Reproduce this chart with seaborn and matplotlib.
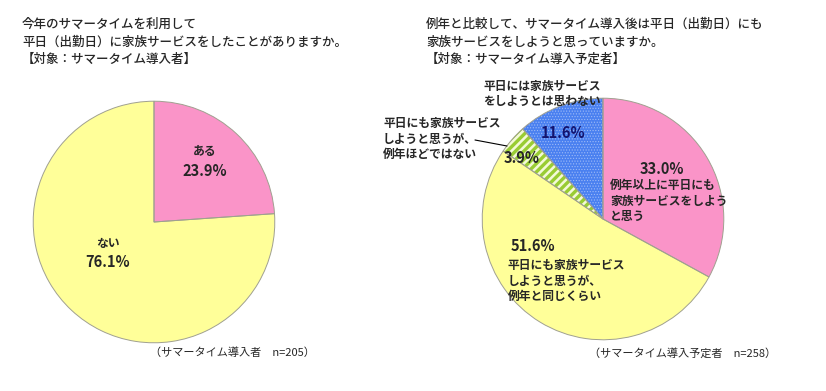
import matplotlib

matplotlib.use("Agg")
import matplotlib.pyplot as plt
import seaborn as sns

# left pie: users of summer time
left_labels = ["ある", "ない"]
left_values = [23.9, 76.1]
left_title = "今年のサマータイムを利用して\n平日（出勤日）に家族サービスをしたことがありますか。\n【対象：サマータイム導入者】"
left_note = "（サマータイム導入者　n=205）"

# right pie: planned users
right_labels = [
    "例年以上に平日にも\n家族サービスをしよう\nと思う",
    "平日にも家族サービス\nしようと思うが、\n例年と同じくらい",
    "平日にも家族サービス\nしようと思うが、\n例年ほどではない",
    "平日には家族サービス\nをしようとは思わない",
]
right_values = [33.0, 51.6, 3.9, 11.6]
right_title = "例年と比較して、サマータイム導入後は平日（出勤日）にも\n家族サービスをしようと思っていますか。\n【対象：サマータイム導入予定者】"
right_note = "（サマータイム導入予定者　n=258）"

PINK = "#FA94C8"
YELLOW = "#FFFF99"
GREEN = "#99CC33"
BLUE = "#4A80F0"

sns.set_theme(style="white")
plt.rcParams["font.family"] = ["Noto Sans CJK JP", "DejaVu Sans"]

W, H = 826, 391
fig = plt.figure(figsize=(W / 100, H / 100), dpi=100)


def px_axes(cx, cy, r):
    return fig.add_axes([(cx - r) / W, (H - cy - r) / H, 2 * r / W, 2 * r / H])


def ftext(x, y, s, **kw):
    fig.text(x / W, 1 - y / H, s, **kw)


def outline(ax, values):
    ax.pie(values, startangle=90, counterclock=False,
           wedgeprops={"fill": False, "edgecolor": "#A0A090", "linewidth": 0.7})


# ---- left pie
ax1 = px_axes(154, 222, 122)
ax1.pie(left_values, colors=[PINK, YELLOW], startangle=90, counterclock=False,
        wedgeprops={"linewidth": 0})
outline(ax1, left_values)
ax1.set_xlim(-1.01, 1.01)
ax1.set_ylim(-1.01, 1.01)

ftext(205, 152, left_labels[0], ha="center", va="center", fontsize=8.5, fontweight="bold")
ftext(205, 171, f"{left_values[0]:.1f}%", ha="center", va="center", fontsize=10.5, fontweight="bold")
ftext(108, 243, left_labels[1], ha="center", va="center", fontsize=8.5, fontweight="bold")
ftext(108, 262, f"{left_values[1]:.1f}%", ha="center", va="center", fontsize=10.5, fontweight="bold")

ftext(22, 18, left_title, ha="left", va="top", fontsize=9, fontweight="medium", linespacing=1.45)
ftext(232, 353, left_note, ha="center", va="center", fontsize=8)

# ---- right pie
ax2 = px_axes(603, 219, 122)
wedges, _ = ax2.pie(right_values, colors=[PINK, YELLOW, "#F4FAD8", BLUE], startangle=90,
                    counterclock=False, wedgeprops={"linewidth": 0})
wedges[2].set_hatch("////")
wedges[2].set_edgecolor(GREEN)
wedges[2].set_linewidth(0)
wedges[3].set_hatch("......")
wedges[3].set_edgecolor("#9DBAF7")
wedges[3].set_linewidth(0)
if hasattr(wedges[2], "set_hatch_linewidth"):
    wedges[2].set_hatch_linewidth(2.4)
    wedges[3].set_hatch_linewidth(0.5)
outline(ax2, right_values)
ax2.set_xlim(-1.01, 1.01)
ax2.set_ylim(-1.01, 1.01)

ftext(662, 169, f"{right_values[0]:.1f}%", ha="center", va="center", fontsize=10.5, fontweight="bold")
ftext(610, 201, right_labels[0], ha="left", va="center", fontsize=8.5, fontweight="bold", linespacing=1.25)
ftext(533, 246, f"{right_values[1]:.1f}%", ha="center", va="center", fontsize=10.5, fontweight="bold")
ftext(508, 281, right_labels[1], ha="left", va="center", fontsize=8.5, fontweight="bold", linespacing=1.25)
ftext(522, 158, f"{right_values[2]:.1f}%", ha="center", va="center", fontsize=10.5, fontweight="bold")
ftext(383, 139, right_labels[2], ha="left", va="center", fontsize=8.5, fontweight="bold", linespacing=1.25)
ftext(563, 133, f"{right_values[3]:.1f}%", ha="center", va="center", fontsize=10.5,
      fontweight="bold", color="#14146E")
ftext(483, 94, right_labels[3], ha="left", va="center", fontsize=8.5, fontweight="bold", linespacing=1.25)
fig.add_artist(plt.Line2D([475 / W, 507 / W], [1 - 140 / H, 1 - 146 / H], color="black", linewidth=0.8))

ftext(426, 18, right_title, ha="left", va="top", fontsize=9, fontweight="medium", linespacing=1.45)
ftext(683, 353, right_note, ha="center", va="center", fontsize=8)

fig.savefig("out.png", dpi=100)
